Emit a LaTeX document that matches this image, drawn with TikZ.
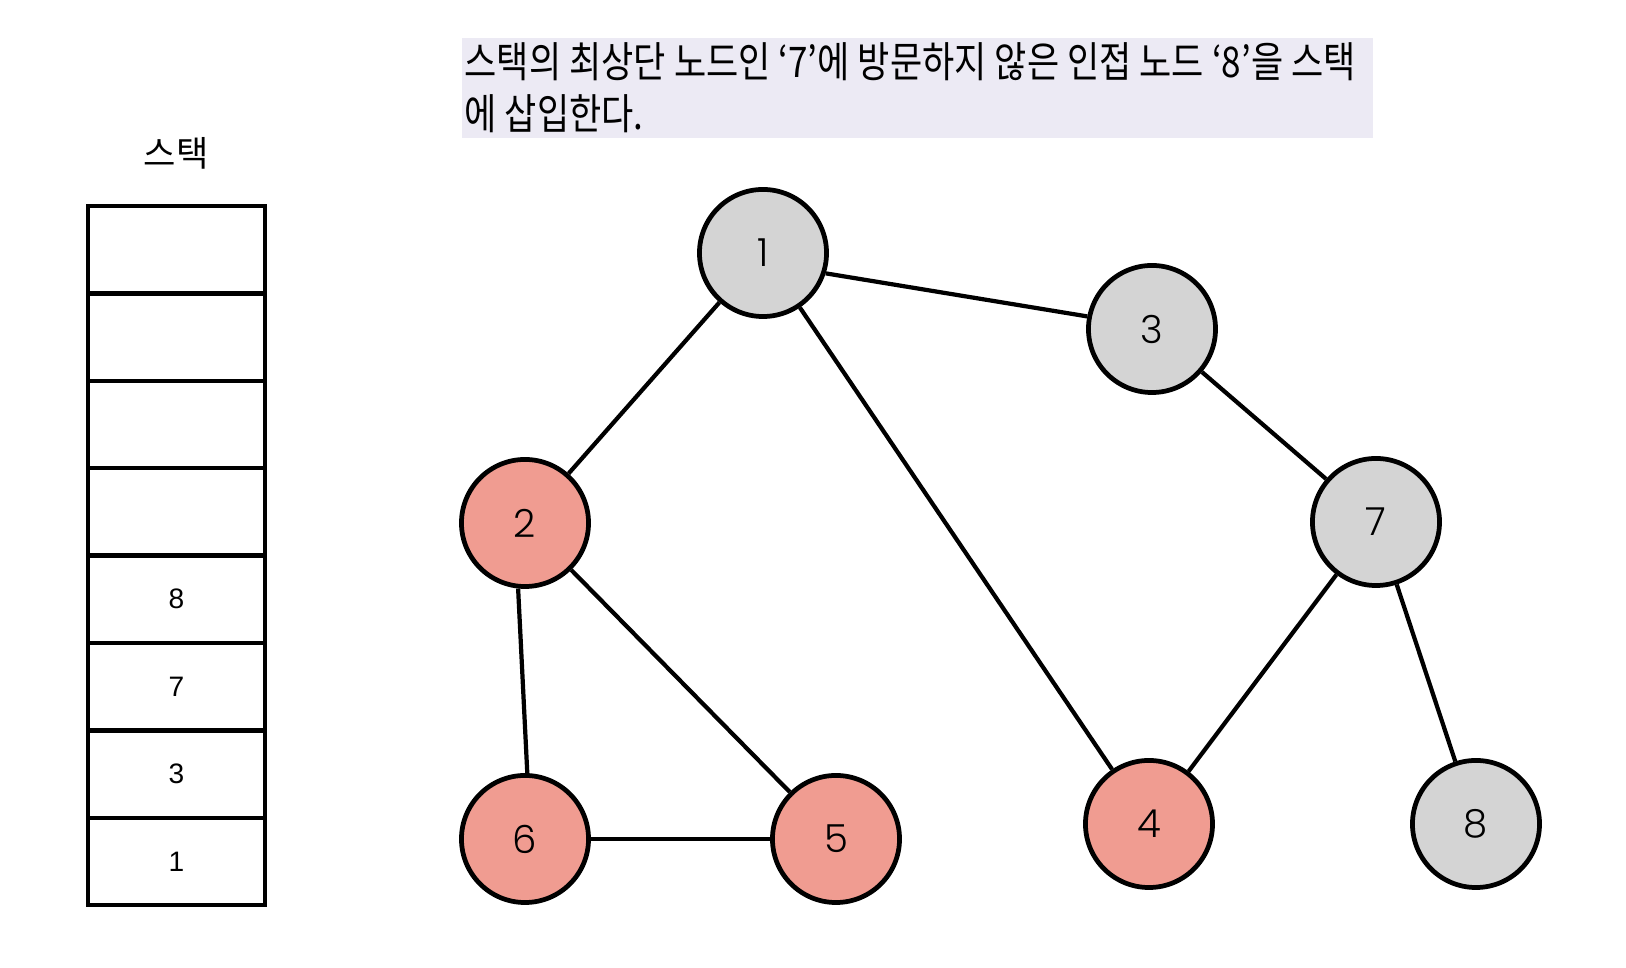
\documentclass[tikz,border=0pt]{standalone}
\usepackage{fontspec}
\setmainfont{Liberation Sans}
\newfontfamily\krfont{Noto Sans CJK KR}
\newfontfamily\krnarrow[FakeStretch=0.83]{Noto Sans CJK KR}
\newfontfamily\numfont{Poppins Light}
\usetikzlibrary{positioning}
\definecolor{grayfill}{HTML}{D4D4D4}
\definecolor{redfill}{HTML}{F09C91}
\definecolor{notebg}{HTML}{ECEAF4}

\begin{document}
\begin{tikzpicture}[x=0.01cm,y=-0.01cm,
  vtx/.style={circle,draw,line width=1.35pt,minimum size=1.27cm,inner sep=0pt,font=\numfont\fontsize{11}{13}\selectfont},
  cell/.style={draw,line width=1.2pt,minimum width=1.77cm,minimum height=0.874cm,inner sep=0pt,font=\fontsize{8}{10}\selectfont},
  note/.style={fill=notebg,anchor=north west,align=left,text width=9.05cm,minimum height=1cm,inner xsep=0.03cm,inner ysep=0pt,
    font=\krnarrow\fontsize{12}{15}\selectfont},
  edge/.style={line width=1.2pt}]
\useasboundingbox (0,0) rectangle (1626,968);

% description
\node[note] (desc) at (461,37) {\spaceskip=0.19em\relax 스택의 최상단 노드인 ‘7’에 방문하지 않은 인접 노드 ‘8’을 스택\\에 삽입한다.};

% stack
\node[font=\krfont\fontsize{10}{12}\selectfont] (title) at (176,153) {스택};
\foreach \v [count=\i] in {{},{},{},{},8,7,3,1}
  \node[cell] (s\i) at (176.5,{206+87.4*(\i-0.5)}) {\v};

% graph
\node[vtx,fill=grayfill] (n1) at (763,253) {1};
\node[vtx,fill=grayfill] (n3) at (1152,329) {3};
\node[vtx,fill=redfill] (n2) at (525,523) {2};
\node[vtx,fill=grayfill] (n7) at (1376,522) {7};
\node[vtx,fill=redfill] (n6) at (525,839) {6};
\node[vtx,fill=redfill] (n5) at (836,839) {5};
\node[vtx,fill=redfill] (n4) at (1149,824) {4};
\node[vtx,fill=grayfill] (n8) at (1476,824) {8};

\draw[edge] (n1.-18)--(n3.169); \draw[edge] (n1)--(n2); \draw[edge] (n1)--(n4);
\draw[edge] (n3)--(n7); \draw[edge] (n2.264)--(n6.88); \draw[edge] (n2)--(n5);
\draw[edge] (n6)--(n5); \draw[edge] (n7)--(n4); \draw[edge] (n7)--(n8);
\end{tikzpicture}
\end{document}
